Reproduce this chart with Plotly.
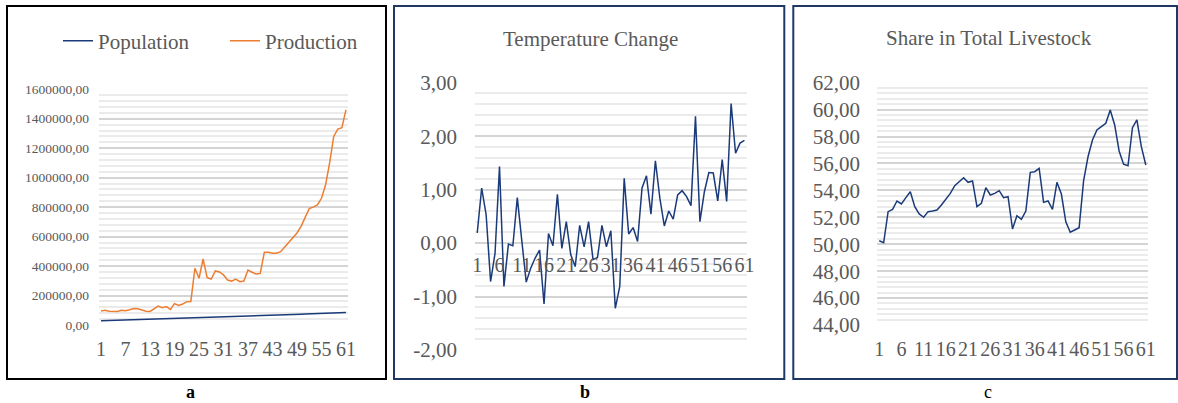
import plotly.graph_objects as go

W, H = 1178, 403

periods = list(range(1, 62))

population = [28200, 29000, 29800, 30600, 31400, 32200, 33000, 33700, 34500, 35300,
              36100, 36900, 37700, 38500, 39300, 40200, 41100, 42000, 42900, 43900,
              45000, 46000, 47100, 48100, 49200, 50200, 51200, 52200, 53200, 54200,
              55200, 56200, 57100, 58100, 59000, 60000, 61000, 62000, 63000, 64000,
              64900, 65800, 66600, 67500, 68300, 69200, 70100, 70900, 71800, 72900,
              74000, 75200, 76400, 77500, 78600, 79600, 80600, 81600, 82600, 83400, 84100]

production = [95000, 100000, 93000, 90000, 92000, 100000, 97000, 103000, 112000, 110000,
              102000, 93000, 92000, 110000, 128000, 118000, 125000, 105000, 145000, 132000,
              142000, 158000, 160000, 385000, 317000, 448000, 321000, 312000, 367000, 360000,
              340000, 305000, 298000, 312000, 294000, 298000, 373000, 358000, 346000, 350000,
              493000, 493000, 487000, 487000, 498000, 530000, 560000, 590000, 625000, 670000,
              730000, 790000, 800000, 815000, 860000, 950000, 1100000, 1280000, 1330000, 1340000, 1460000]

temperature = [0.19, 1.03, 0.53, -0.72, -0.19, 1.43, -0.81, -0.02, -0.05, 0.85,
               0.05, -0.73, -0.47, -0.28, -0.13, -1.14, 0.18, -0.05, 0.91, -0.10,
               0.40, -0.22, -0.44, 0.33, -0.07, 0.40, -0.31, -0.27, 0.33, -0.07,
               0.23, -1.22, -0.81, 1.21, 0.17, 0.29, 0.03, 1.03, 1.26, 0.54,
               1.54, 0.84, 0.32, 0.60, 0.45, 0.90, 0.98, 0.87, 0.70, 2.37,
               0.40, 0.96, 1.32, 1.31, 0.79, 1.56, 0.78, 2.61, 1.68, 1.87, 1.92]

share = [50.26, 50.11, 52.42, 52.59, 53.21, 52.99, 53.46, 53.90, 52.79, 52.25,
         52.00, 52.42, 52.47, 52.54, 52.91, 53.33, 53.78, 54.35, 54.65, 54.94,
         54.60, 54.70, 52.79, 53.04, 54.20, 53.66, 53.78, 53.98, 53.46, 53.53,
         51.13, 52.12, 51.85, 52.47, 55.34, 55.39, 55.64, 53.11, 53.21, 52.59,
         54.60, 53.73, 51.67, 50.89, 51.06, 51.23, 54.70, 56.50, 57.74, 58.49,
         58.73, 58.98, 59.97, 58.86, 56.93, 55.94, 55.83, 58.66, 59.23, 57.25, 55.89]

a_xticks = [1, 7, 13, 19, 25, 31, 37, 43, 49, 55, 61]
bc_xticks = [1, 6, 11, 16, 21, 26, 31, 36, 41, 46, 51, 56, 61]
a_yticks = [0, 200000, 400000, 600000, 800000, 1000000, 1200000, 1400000, 1600000]
a_yticktext = ["0,00", "200000,00", "400000,00", "600000,00", "800000,00",
               "1000000,00", "1200000,00", "1400000,00", "1600000,00"]
b_yticks = [-2, -1, 0, 1, 2, 3]
b_yticktext = ["-2,00", "-1,00", "0,00", "1,00", "2,00", "3,00"]
c_yticks = [44, 46, 48, 50, 52, 54, 56, 58, 60, 62]
c_yticktext = ["44,00", "46,00", "48,00", "50,00", "52,00", "54,00", "56,00", "58,00", "60,00", "62,00"]

NAVY = "#1B3A7A"
ORANGE = "#ED7D31"
GRAY = "#595959"
FONT = "Liberation Serif"
MAJ = "#D4D4D4"
MIN = "#EBEBEB"


def px_x(v):
    return v / W


def px_y(v):
    return (H - v) / H


fig = go.Figure()
fig.add_trace(go.Scatter(x=periods, y=population, name="Population", mode="lines",
                         line=dict(color=NAVY, width=1.5), xaxis="x", yaxis="y"))
fig.add_trace(go.Scatter(x=periods, y=production, name="Production", mode="lines",
                         line=dict(color=ORANGE, width=1.5), xaxis="x", yaxis="y"))
fig.add_trace(go.Scatter(x=periods, y=temperature, name="Temperature Change", mode="lines",
                         line=dict(color=NAVY, width=1.5), xaxis="x2", yaxis="y2",
                         showlegend=False))
fig.add_trace(go.Scatter(x=periods, y=share, name="Share in Total Livestock", mode="lines",
                         line=dict(color=NAVY, width=1.5), xaxis="x3", yaxis="y3",
                         showlegend=False))

xcommon = dict(range=[0.5, 61.5], showgrid=False, zeroline=False, showline=False,
               ticks="", tickangle=0, tickmode="array", automargin=False,
               tickfont=dict(family=FONT, size=20, color=GRAY))
ycommon = dict(zeroline=False, showline=False, ticks="", tickmode="array", automargin=False,
               showgrid=True, gridcolor=MAJ, gridwidth=2)

# panel a
ya_dom = [px_y(325), px_y(89.3)]
fig.update_layout(
    xaxis=dict(domain=[px_x(99), px_x(348)], anchor="y", tickvals=a_xticks,
               ticklabelstandoff=10, **xcommon),
    yaxis=dict(domain=ya_dom, anchor="x", range=[0, 1600000], tickvals=a_yticks,
               ticktext=a_yticktext, ticklabelstandoff=9,
               tickfont=dict(family=FONT, size=13.5, color=GRAY),
               minor=dict(tickmode="linear", tick0=0, dtick=40000, showgrid=True,
                          gridcolor=MIN, gridwidth=1.5, ticks=""),
               **ycommon),
)

# panel b
yb_dom = [px_y(350), px_y(82.7)]
zero_pos = yb_dom[0] + (0 - (-2)) / 5 * (yb_dom[1] - yb_dom[0])
fig.update_layout(
    xaxis2=dict(domain=[px_x(475), px_x(746.7)], anchor="free", position=zero_pos,
                tickvals=bc_xticks, ticklabelstandoff=8, **xcommon),
    yaxis2=dict(domain=yb_dom, anchor="x2", range=[-2, 3], tickvals=b_yticks,
                ticktext=b_yticktext, ticklabelstandoff=17,
                tickfont=dict(family=FONT, size=21, color=GRAY),
                minor=dict(tickmode="linear", tick0=0, dtick=0.2, showgrid=True,
                           gridcolor=MIN, gridwidth=1.5, ticks=""),
                **ycommon),
)

# panel c
yc_dom = [px_y(325), px_y(82.7)]
fig.update_layout(
    xaxis3=dict(domain=[px_x(877), px_x(1148)], anchor="y3", tickvals=bc_xticks,
                ticklabelstandoff=10, **xcommon),
    yaxis3=dict(domain=yc_dom, anchor="x3", range=[44, 62], tickvals=c_yticks,
                ticktext=c_yticktext, ticklabelstandoff=16,
                tickfont=dict(family=FONT, size=21, color=GRAY),
                minor=dict(tickmode="linear", tick0=44, dtick=0.4, showgrid=True,
                           gridcolor=MIN, gridwidth=1.5, ticks=""),
                **ycommon),
)

shapes = [
    dict(type="rect", xref="paper", yref="paper", x0=px_x(7), x1=px_x(386),
         y0=px_y(379), y1=px_y(6), line=dict(color="#000000", width=2), layer="above"),
    dict(type="rect", xref="paper", yref="paper", x0=px_x(394), x1=px_x(784.3),
         y0=px_y(379), y1=px_y(6), line=dict(color="#1F3864", width=2), layer="above"),
    dict(type="rect", xref="paper", yref="paper", x0=px_x(793.3), x1=px_x(1177),
         y0=px_y(379), y1=px_y(6), line=dict(color="#1F3864", width=2), layer="above"),
]

annotations = [
    dict(text="Temperature Change", x=px_x(590), y=px_y(39), xref="paper", yref="paper",
         showarrow=False, xanchor="center", yanchor="middle",
         font=dict(family=FONT, size=21, color=GRAY)),
    dict(text="Share in Total Livestock", x=px_x(989), y=px_y(38), xref="paper", yref="paper",
         showarrow=False, xanchor="center", yanchor="middle",
         font=dict(family=FONT, size=21, color=GRAY)),
    dict(text="<b>a</b>", x=px_x(190), y=px_y(392), xref="paper", yref="paper",
         showarrow=False, xanchor="center", yanchor="middle",
         font=dict(family=FONT, size=18, color="#000000")),
    dict(text="<b>b</b>", x=px_x(585), y=px_y(392), xref="paper", yref="paper",
         showarrow=False, xanchor="center", yanchor="middle",
         font=dict(family=FONT, size=18, color="#000000")),
    dict(text="c", x=px_x(988), y=px_y(392), xref="paper", yref="paper",
         showarrow=False, xanchor="center", yanchor="middle",
         font=dict(family=FONT, size=18, color="#000000")),
]

fig.update_layout(
    template="none",
    width=W, height=H, margin=dict(l=0, r=0, t=0, b=0, pad=0),
    paper_bgcolor="white", plot_bgcolor="rgba(0,0,0,0)",
    showlegend=True,
    legend=dict(orientation="h", x=px_x(58), y=px_y(41), xanchor="left", yanchor="middle",
                font=dict(family=FONT, size=21, color=GRAY), bgcolor="rgba(0,0,0,0)",
                entrywidth=122, entrywidthmode="pixels"),
    shapes=shapes, annotations=annotations,
)

fig.write_html("out.html", config={"displayModeBar": False},
               post_script="document.body.style.margin='0';document.body.style.overflow='hidden';")
